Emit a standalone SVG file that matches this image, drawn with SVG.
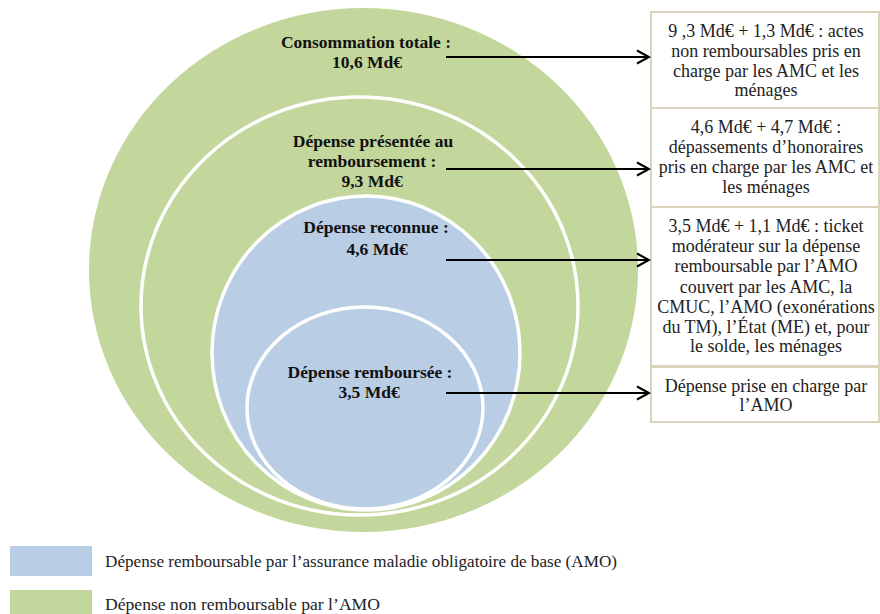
<svg xmlns="http://www.w3.org/2000/svg" width="880" height="614" viewBox="0 0 880 614">
<style>
.green{fill:#c3d69b}
.blue{fill:#b9cde5}
.ring{stroke:#ffffff;stroke-width:3.5}
.lbl{font-family:"Liberation Serif","Times New Roman",serif;font-weight:bold;font-size:17.5px;fill:#111;text-anchor:middle}
.box{fill:#ffffff;stroke:#d9d4bb;stroke-width:2}
.bt{font-family:"Liberation Serif","Times New Roman",serif;font-size:18px;fill:#222;text-anchor:middle}
.lg{font-family:"Liberation Serif","Times New Roman",serif;font-size:17px;fill:#222}
.conn{stroke:#000;stroke-width:2;fill:none}
</style>
<defs>
<marker id="arr" markerUnits="userSpaceOnUse" markerWidth="16" markerHeight="16" refX="13" refY="8" orient="auto">
<path d="M1,1.5 L13,8 L1,14.5" fill="none" stroke="#000" stroke-width="2"/>
</marker>
</defs>
<rect width="880" height="614" fill="#ffffff"/>
<g id="circle-total">
<ellipse class="green" cx="363.5" cy="270" rx="274.5" ry="262"/>
<text class="lbl" x="366" y="48">Consommation totale :</text>
<text class="lbl" x="367" y="68">10,6 Md€</text>
</g>
<g id="circle-presentee">
<ellipse class="green ring" cx="359.5" cy="306" rx="218.5" ry="209"/>
<text class="lbl" x="373" y="147">Dépense présentée au</text>
<text class="lbl" x="372" y="167">remboursement :</text>
<text class="lbl" x="372" y="187">9,3 Md€</text>
</g>
<g id="circle-reconnue">
<ellipse class="blue ring" cx="366" cy="353" rx="154" ry="157"/>
<text class="lbl" x="376" y="233">Dépense reconnue :</text>
<text class="lbl" x="377" y="255">4,6 Md€</text>
</g>
<g id="circle-remboursee">
<ellipse class="blue ring" cx="365" cy="408" rx="118" ry="101"/>
<text class="lbl" x="370" y="378">Dépense remboursée :</text>
<text class="lbl" x="369" y="398">3,5 Md€</text>
</g>
<g id="box1">
<rect class="box" x="651" y="12" width="228" height="96"/>
<text class="bt" x="766" y="37">9 ,3 Md€ + 1,3 Md€ : actes</text>
<text class="bt" x="766" y="57">non remboursables pris en</text>
<text class="bt" x="766" y="77">charge par les AMC et les</text>
<text class="bt" x="766" y="96">ménages</text>
</g>
<g id="box2">
<rect class="box" x="651" y="108" width="228" height="99"/>
<text class="bt" x="766" y="133">4,6 Md€ + 4,7 Md€ :</text>
<text class="bt" x="766" y="153">dépassements d’honoraires</text>
<text class="bt" x="766" y="173">pris en charge par les AMC et</text>
<text class="bt" x="766" y="193">les ménages</text>
</g>
<g id="box3">
<rect class="box" x="651" y="207" width="228" height="159"/>
<text class="bt" x="766" y="232">3,5 Md€ + 1,1 Md€ : ticket</text>
<text class="bt" x="766" y="252">modérateur sur la dépense</text>
<text class="bt" x="766" y="272">remboursable par l’AMO</text>
<text class="bt" x="766" y="293">couvert par les AMC, la</text>
<text class="bt" x="766" y="313">CMUC, l’AMO (exonérations</text>
<text class="bt" x="766" y="333">du TM), l’État (ME) et, pour</text>
<text class="bt" x="766" y="352">le solde, les ménages</text>
</g>
<g id="box4">
<rect class="box" x="651" y="367" width="228" height="55"/>
<text class="bt" x="766" y="392">Dépense prise en charge par</text>
<text class="bt" x="766" y="411">l’AMO</text>
</g>
<g id="connectors">
<line class="conn" x1="446" y1="57" x2="649" y2="57" marker-end="url(#arr)"/>
<line class="conn" x1="446" y1="169" x2="649" y2="169" marker-end="url(#arr)"/>
<line class="conn" x1="446" y1="260" x2="649" y2="260" marker-end="url(#arr)"/>
<line class="conn" x1="446" y1="393" x2="649" y2="393" marker-end="url(#arr)"/>
</g>
<g id="legend">
<rect class="blue" x="10" y="546" width="82" height="30"/>
<text class="lg" x="105" y="567" textLength="512" lengthAdjust="spacingAndGlyphs">Dépense remboursable par l’assurance maladie obligatoire de base (AMO)</text>
<rect class="green" x="10" y="590" width="82" height="24"/>
<text class="lg" x="105" y="610" textLength="275" lengthAdjust="spacingAndGlyphs">Dépense non remboursable par l’AMO</text>
</g>
</svg>
